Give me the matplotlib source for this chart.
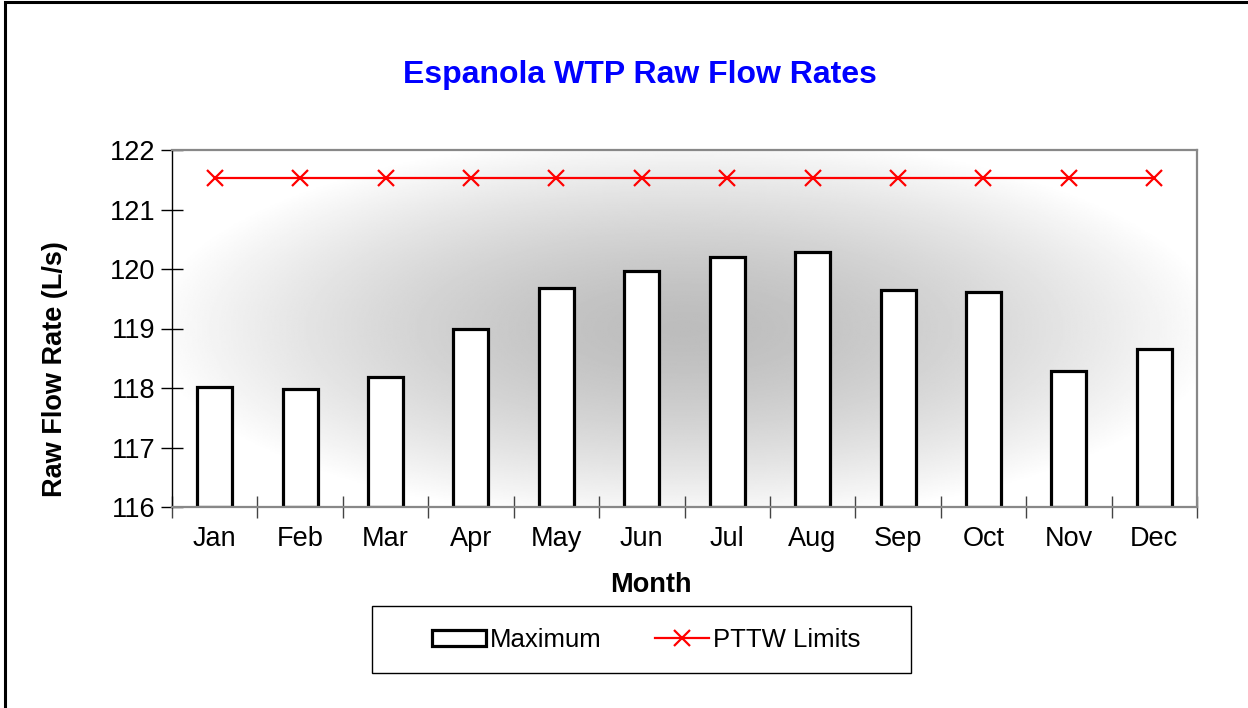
import numpy as np
import matplotlib
matplotlib.use("Agg")
import matplotlib.pyplot as plt
from matplotlib.patches import Rectangle

plt.rcParams['font.family'] = ['Liberation Sans', 'DejaVu Sans']

months = ["Jan", "Feb", "Mar", "Apr", "May", "Jun",
          "Jul", "Aug", "Sep", "Oct", "Nov", "Dec"]
maximum = [118.01, 117.99, 118.19, 118.99, 119.68, 119.97,
           120.21, 120.29, 119.65, 119.61, 118.29, 118.66]
pttw = [121.53] * 12

W, H = 1248, 708
fig = plt.figure(figsize=(W / 100, H / 100), dpi=100)
ax = fig.add_axes([172 / W, 1 - 507 / H, (1197 - 172) / W, (507 - 150) / H])

# chart border (only left and top are visible in the reference)
fig.patches.append(Rectangle((5 / W, -0.1), 1.2, 1 - 2 / H + 0.1,
                             transform=fig.transFigure, fill=False,
                             edgecolor="black", linewidth=2.2, zorder=10))

# gradient background of the plot area, dark in the middle
yy, xx = np.mgrid[-1:1:300j, -1:1:600j]
d = np.sqrt((xx / 1.05) ** 2 + (yy / 1.1) ** 2)
shade = 0.74 + 0.26 * np.clip(d, 0, 1) ** 1.5
ax.imshow(shade, cmap="gray", vmin=0, vmax=1, extent=[0, 1, 0, 1],
          transform=ax.transAxes, aspect="auto", zorder=0,
          interpolation="bilinear")

x = np.arange(len(months))
bars = ax.bar(x, np.array(maximum) - 116, bottom=116, width=0.41,
              color="white", edgecolor="black", linewidth=2.3, zorder=2,
              label="Maximum")
line, = ax.plot(x, pttw, color="red", linewidth=1.6, marker="x",
                markersize=11, markeredgewidth=1.6, zorder=3,
                label="PTTW Limits")

ax.set_xlim(-0.5, 11.5)
ax.set_ylim(116, 122)
ax.set_yticks(range(116, 123))
ax.set_xticks(x)
ax.set_xticklabels(months)
ax.set_xticks(np.arange(-0.5, 12, 1), minor=True)
ax.tick_params(axis="x", which="major", length=0, labelsize=19.5, pad=14)
ax.tick_params(axis="x", which="minor", length=16, direction="inout",
               color="#444444", width=1)
ax.tick_params(axis="y", length=16, direction="inout", labelsize=19.5,
               width=1, pad=4)

for s in ["top", "right", "bottom"]:
    ax.spines[s].set_color("#888888")
    ax.spines[s].set_linewidth(1.6)
ax.spines["left"].set_color("black")
ax.spines["left"].set_linewidth(1)

fig.text(651 / W, 1 - 585 / H, "Month", fontsize=19.5, fontweight="bold",
         ha="center", va="center")
fig.text(55 / W, 1 - 369 / H, "Raw Flow Rate (L/s)", fontsize=19.5,
         fontweight="bold", rotation=90, ha="center", va="center")
fig.text(640 / W, 1 - 75 / H, "Espanola WTP Raw Flow Rates", color="#0000ff",
         fontsize=23, fontweight="bold", ha="center", va="center")

# legend box
fig.patches.append(Rectangle((372 / W, 1 - 673 / H), (911 - 372) / W,
                             (673 - 606) / H, transform=fig.transFigure,
                             fill=False, edgecolor="black", linewidth=1))
fig.legend([bars, line], ["Maximum", "PTTW Limits"], loc="center",
           bbox_to_anchor=(646 / W, 1 - 640 / H), ncol=2, fontsize=18.5,
           frameon=False, handlelength=2.1, handleheight=0.6,
           handletextpad=0.15, columnspacing=2.1)

fig.savefig("out.png", dpi=100)
